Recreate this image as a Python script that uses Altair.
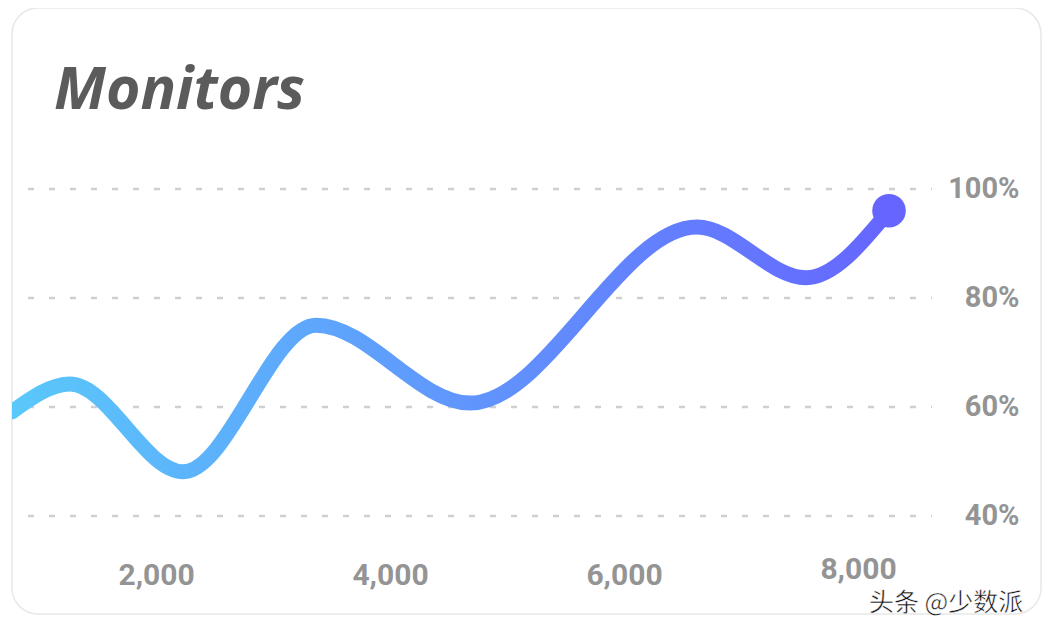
import altair as alt
import pandas as pd

# data
x_vals = [769, 1265, 2231, 3368, 4684, 6624, 7556, 8265]
y_vals = [59.1, 64.2, 48.1, 75.0, 60.7, 93.0, 83.7, 96.0]
x_ticks = [2000, 4000, 6000, 8000]
y_ticks = [40, 60, 80, 100]
title_text = "Monitors"
watermark = "头条 @少数派"

df = pd.DataFrame({"x": x_vals, "y": y_vals})
last = df.tail(1)
grid = pd.DataFrame({"y": y_ticks})

W, H = 1029, 606
xscale = alt.Scale(domain=[769, 9564], nice=False, zero=False)
yscale = alt.Scale(domain=[22, 133.2], nice=False, zero=False)

label_color = "#949494"

x_axis = alt.Axis(
    values=x_ticks, format=",d", title=None, domain=False, ticks=False, grid=False,
    labelFont="Roboto", labelFontWeight="bold", labelFontSize=30, labelColor=label_color,
    labelBaseline="middle",
    labelPadding={"condition": {"test": "datum.value == 8000", "value": -45}, "value": -39},
)
y_axis = alt.Axis(
    values=y_ticks, orient="right", title=None, domain=False, ticks=False, grid=False,
    labelExpr="datum.value + '%'", labelAlign="right", labelBaseline="middle",
    labelFont="Roboto", labelFontWeight="bold", labelFontSize=29, labelColor=label_color,
    labelPadding=-22,
)

gridlines = alt.Chart(grid).mark_rule(
    color="#cfcfcf", strokeWidth=2.5, strokeDash=[6, 15]
).encode(
    y=alt.Y("y:Q", scale=yscale, axis=y_axis),
    x=alt.value(16), x2=alt.value(920),
)

gradient = alt.LinearGradient(
    gradient="linear",
    stops=[alt.GradientStop(color="#5ac8fa", offset=0),
           alt.GradientStop(color="#6666ff", offset=1)],
    x1=0, x2=1, y1=0, y2=0,
)

line = alt.Chart(df).mark_line(
    interpolate="monotone", strokeWidth=15, strokeCap="round", clip=True, color=gradient
).encode(
    x=alt.X("x:Q", scale=xscale, axis=x_axis),
    y=alt.Y("y:Q", scale=yscale),
)

dot = alt.Chart(last).mark_circle(size=1130, opacity=1, color="#6666ff").encode(
    x=alt.X("x:Q", scale=xscale),
    y=alt.Y("y:Q", scale=yscale),
)

title = alt.Chart(pd.DataFrame({"t": [title_text]})).mark_text(
    font="Open Sans", fontStyle="italic", fontWeight="bold", fontSize=59,
    color="#5b5b5b", align="left", baseline="alphabetic"
).encode(text="t:N", x=alt.value(42), y=alt.value(101))

wm = alt.Chart(pd.DataFrame({"t": [watermark]})).mark_text(
    font="Noto Sans CJK SC", fontSize=25, color="#111111", align="left",
    baseline="middle", stroke="white", strokeWidth=0.5
).encode(text="t:N", x=alt.value(857), y=alt.value(595))

chart = alt.layer(gridlines, line, dot, title, wm).properties(
    width=W, height=H,
    autosize=alt.AutoSizeParams(type="none"),
    padding={"left": 4, "top": 0, "right": 4, "bottom": 11},
    background="white",
).configure_view(
    fill="white", stroke="#e8e8e8", strokeWidth=1.5, cornerRadius=26
)

chart.save("out.html", embed_options={"renderer": "svg", "actions": False})
